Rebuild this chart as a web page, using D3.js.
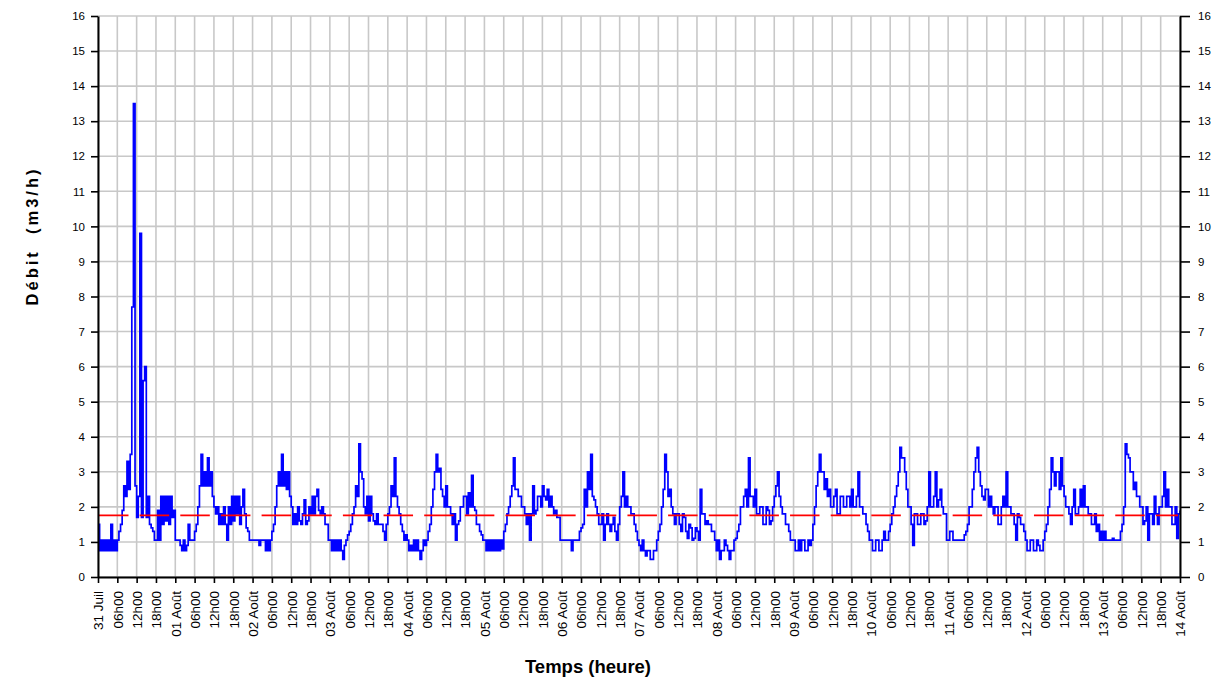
<!DOCTYPE html>
<html>
<head>
<meta charset="utf-8">
<script src="https://cdn.jsdelivr.net/npm/d3@7"></script>
<style>
  html, body { margin: 0; padding: 0; background: #fff; }
  svg { display: block; font-family: "Liberation Sans", Arial, sans-serif; }
</style>
</head>
<body>
<div id="chart"></div>
<script>
// Day labels (at 00h00) and intra-day labels.
const dayLabels = ['31 Juil', '01 Août', '02 Août', '03 Août', '04 Août', '05 Août', '06 Août',
  '07 Août', '08 Août', '09 Août', '10 Août', '11 Août', '12 Août', '13 Août', '14 Août'];
const hourLabels = ['06h00', '12h00', '18h00'];
const yTicks = d3.range(0, 17);

// Half-hourly flow (m3/h), one row per day, starting 31 Juil 00h00.
const flow = [
  1.5, 0.75, 1.05, 0.75, 1.05, 0.75, 1.05, 0.75, 1.5, 0.75, 1.05, 0.75, 1.05, 1.3, 1.5, 1.9, 2.6, 2.3, 3.3, 2.5, 3.5, 7.7, 13.5, 2.6, 1.7, 2.3, 9.8, 1.7, 5.6, 6.0, 1.7, 2.3, 1.5, 1.4, 1.3, 1.05, 1.05, 1.9, 1.05, 2.3, 1.5, 2.3, 1.6, 2.3, 1.5, 2.3, 1.7, 1.9,
  1.05, 1.05, 1.05, 0.9, 0.75, 1.05, 0.75, 0.9, 1.5, 1.05, 1.05, 1.05, 1.3, 1.5, 2.0, 2.6, 3.5, 2.6, 3.0, 2.6, 3.4, 2.6, 3.0, 2.3, 2.0, 1.8, 2.0, 1.5, 1.8, 1.5, 2.0, 1.5, 1.05, 2.0, 1.5, 2.3, 1.6, 2.3, 1.8, 2.3, 1.5, 2.0, 2.5, 1.8, 1.4, 1.3, 1.05, 1.05,
  1.05, 1.05, 1.05, 1.05, 0.9, 1.05, 1.05, 1.05, 0.75, 1.05, 0.75, 1.05, 1.3, 1.5, 2.0, 2.6, 3.0, 2.6, 3.5, 2.6, 3.0, 2.5, 3.0, 2.3, 2.0, 1.5, 1.8, 1.5, 2.0, 1.6, 1.5, 1.8, 2.2, 1.5, 1.6, 2.0, 1.8, 2.3, 1.8, 2.3, 2.5, 1.9, 1.8, 2.0, 1.8, 1.5, 1.5, 1.05,
  1.05, 0.75, 1.05, 0.75, 1.05, 0.75, 1.05, 0.75, 0.5, 0.9, 1.05, 1.2, 1.3, 1.5, 1.8, 2.0, 2.6, 2.3, 3.8, 3.0, 2.8, 2.0, 1.8, 2.3, 1.6, 2.3, 1.8, 1.6, 1.5, 1.8, 1.5, 1.5, 1.5, 1.3, 1.05, 1.5, 1.8, 2.0, 2.6, 2.3, 3.4, 2.3, 2.0, 1.8, 1.5, 1.3, 1.05, 1.2,
  1.05, 0.75, 0.9, 0.75, 1.05, 0.75, 1.05, 0.75, 0.5, 0.75, 1.05, 0.9, 1.05, 1.3, 1.5, 2.0, 2.5, 3.0, 3.5, 3.0, 3.1, 2.5, 2.3, 2.0, 2.6, 2.0, 2.0, 1.8, 1.5, 1.8, 1.05, 1.5, 1.6, 2.0, 2.0, 2.3, 2.3, 1.8, 2.4, 2.0, 2.9, 2.0, 1.9, 1.5, 1.5, 1.3, 1.2, 1.05,
  1.05, 0.75, 1.05, 0.75, 1.05, 0.75, 1.05, 0.75, 1.05, 0.75, 1.05, 0.8, 1.3, 1.5, 1.8, 2.0, 2.3, 2.6, 3.4, 2.5, 2.5, 2.3, 2.3, 2.0, 2.0, 1.8, 1.5, 1.8, 1.05, 1.8, 2.6, 1.8, 1.9, 2.3, 2.3, 2.0, 2.6, 2.3, 2.2, 2.5, 2.0, 2.3, 2.0, 1.8, 1.9, 1.7, 1.7, 1.05,
  1.05, 1.05, 1.05, 1.05, 1.05, 1.05, 0.75, 1.05, 1.05, 1.05, 1.05, 1.3, 1.4, 1.5, 2.5, 2.0, 3.0, 2.5, 3.5, 2.3, 2.2, 2.0, 1.8, 1.5, 1.5, 1.8, 1.05, 1.5, 1.8, 1.5, 1.3, 1.5, 1.7, 1.3, 1.05, 1.5, 2.0, 2.3, 3.0, 2.0, 2.3, 2.0, 2.0, 1.8, 1.8, 1.5, 1.3, 1.05,
  0.9, 0.75, 1.05, 0.75, 0.6, 0.75, 0.75, 0.5, 0.5, 0.75, 0.75, 1.05, 1.3, 1.5, 2.0, 2.5, 3.5, 3.0, 2.3, 2.5, 2.0, 1.8, 1.5, 1.8, 1.8, 1.5, 1.3, 1.8, 1.7, 1.3, 1.1, 1.5, 1.4, 1.05, 1.1, 1.4, 1.3, 1.05, 2.5, 1.8, 1.8, 1.5, 1.6, 1.5, 1.5, 1.3, 1.3, 1.05,
  0.75, 1.05, 0.5, 0.75, 0.75, 1.05, 0.9, 0.75, 0.5, 0.75, 0.75, 1.05, 1.1, 1.3, 1.5, 2.0, 2.0, 2.3, 2.5, 2.0, 3.4, 2.3, 2.3, 2.0, 2.5, 1.8, 1.8, 2.0, 2.0, 1.5, 1.5, 2.0, 1.9, 1.5, 1.6, 2.0, 2.3, 2.6, 3.0, 2.3, 2.0, 1.8, 1.8, 1.5, 1.5, 1.3, 1.05, 1.05,
  1.05, 0.75, 0.75, 1.05, 0.75, 1.05, 1.05, 0.75, 0.75, 1.05, 0.9, 1.05, 1.5, 2.0, 2.6, 3.0, 3.5, 3.0, 3.0, 2.5, 2.8, 2.3, 2.5, 2.0, 2.0, 2.3, 2.5, 1.8, 1.8, 2.3, 2.3, 2.0, 2.0, 2.3, 2.3, 2.0, 2.5, 2.0, 2.0, 2.3, 3.0, 2.0, 2.0, 1.8, 1.8, 1.5, 1.3, 1.05,
  1.05, 0.75, 0.75, 1.05, 1.05, 0.75, 0.75, 1.05, 1.3, 1.05, 1.05, 1.3, 1.5, 1.8, 2.0, 2.3, 2.6, 3.0, 3.7, 3.4, 3.4, 3.0, 2.5, 2.0, 2.0, 1.5, 0.9, 1.8, 1.8, 1.5, 1.5, 1.8, 1.8, 1.5, 1.6, 2.0, 3.0, 2.0, 2.0, 2.3, 3.0, 2.0, 2.2, 2.5, 2.0, 1.8, 1.8, 1.05,
  1.05, 1.3, 1.3, 1.05, 1.05, 1.05, 1.05, 1.05, 1.05, 1.05, 1.2, 1.3, 1.5, 2.0, 2.0, 2.5, 3.0, 3.4, 3.7, 3.0, 2.6, 2.3, 2.2, 2.5, 2.5, 2.0, 2.3, 2.0, 1.8, 2.0, 2.0, 1.5, 1.5, 2.0, 2.3, 2.0, 3.0, 2.0, 2.0, 1.8, 1.8, 1.5, 1.05, 1.8, 1.7, 1.5, 1.5, 1.3,
  1.05, 0.75, 0.75, 1.05, 1.05, 0.75, 0.75, 1.05, 0.9, 0.75, 0.75, 1.05, 1.3, 1.5, 2.0, 2.5, 3.4, 3.0, 2.6, 3.0, 3.0, 2.5, 3.4, 2.6, 2.3, 2.0, 2.0, 1.8, 1.5, 2.0, 2.5, 1.8, 1.8, 2.0, 2.5, 2.0, 2.6, 2.0, 2.0, 1.8, 1.8, 1.5, 1.5, 1.8, 1.3, 1.5, 1.05, 1.3,
  1.05, 1.3, 1.05, 1.05, 1.05, 1.05, 1.1, 1.05, 1.05, 1.05, 1.05, 1.3, 1.5, 2.0, 3.8, 3.5, 3.4, 3.0, 3.0, 2.5, 2.7, 2.3, 2.3, 2.0, 2.0, 1.5, 1.6, 2.0, 1.05, 1.8, 1.8, 1.5, 2.3, 1.8, 1.5, 2.0, 2.0, 2.3, 3.0, 2.0, 2.5, 2.0, 2.0, 1.5, 1.5, 2.0, 1.1, 1.8,
  1.9
];

// Mean flow reference line.
const meanFlow = 1.76;

function chart() {
  const attrs = {
    svgWidth: 1219,
    svgHeight: 679,
    marginTop: 16,
    marginLeft: 98,
    marginRight: 39,
    marginBottom: 102,
    totalHours: 336,
    stepHours: 0.5,
    gridColor: '#c8c8c8',
    lineColor: '#0000ff',
    meanColor: '#ff0000'
  };

  const calc = {};
  calc.chartWidth = attrs.svgWidth - attrs.marginLeft - attrs.marginRight;
  calc.chartHeight = attrs.svgHeight - attrs.marginTop - attrs.marginBottom;

  const points = flow.map((v, i) => ({ x: i * attrs.stepHours, y: v }));

  // Scales.
  const xScale = d3.scaleLinear()
    .domain([0, attrs.totalHours])
    .range([0, calc.chartWidth]);

  const yScale = d3.scaleLinear()
    .domain([0, 16])
    .range([calc.chartHeight, 0]);

  const xTicks = d3.range(0, attrs.totalHours + 1, 6);
  const xLabel = h => (h % 24 === 0) ? dayLabels[h / 24] : hourLabels[(h % 24) / 6 - 1];

  const svg = d3.select('#chart').append('svg')
    .attr('width', attrs.svgWidth)
    .attr('height', attrs.svgHeight);

  const chart = svg.append('g')
    .attr('transform', 'translate(' + attrs.marginLeft + ',' + attrs.marginTop + ')');

  // Grid.
  chart.append('g').selectAll('line.vgrid')
    .data(xTicks)
    .enter().append('line')
    .attr('class', 'vgrid')
    .attr('x1', d => xScale(d))
    .attr('x2', d => xScale(d))
    .attr('y1', 0)
    .attr('y2', calc.chartHeight)
    .attr('stroke', attrs.gridColor)
    .attr('stroke-width', 1.6);

  chart.append('g').selectAll('line.hgrid')
    .data(yTicks)
    .enter().append('line')
    .attr('class', 'hgrid')
    .attr('x1', 0)
    .attr('x2', calc.chartWidth)
    .attr('y1', d => yScale(d))
    .attr('y2', d => yScale(d))
    .attr('stroke', attrs.gridColor)
    .attr('stroke-width', 1.6);

  // Flow line.
  const line = d3.line()
    .curve(d3.curveStepAfter)
    .x(d => xScale(d.x))
    .y(d => yScale(d.y));

  chart.append('path')
    .datum(points)
    .attr('d', line)
    .attr('fill', 'none')
    .attr('stroke', attrs.lineColor)
    .attr('stroke-width', 1.7);

  // Mean line.
  chart.append('line')
    .attr('x1', 1)
    .attr('x2', calc.chartWidth - 2)
    .attr('y1', yScale(meanFlow))
    .attr('y2', yScale(meanFlow))
    .attr('stroke', attrs.meanColor)
    .attr('stroke-width', 1.8)
    .attr('stroke-dasharray', '29.5 11.15');

  // Axes.
  const xAxis = d3.axisBottom(xScale)
    .tickValues(xTicks)
    .tickFormat(xLabel)
    .tickSize(6)
    .tickSizeOuter(0);

  const gx = chart.append('g')
    .attr('transform', 'translate(0,' + calc.chartHeight + ')')
    .call(xAxis);

  gx.selectAll('text')
    .attr('transform', 'rotate(-90)')
    .attr('text-anchor', 'end')
    .attr('x', -14)
    .attr('y', 0)
    .attr('dy', '0.36em')
    .attr('font-size', 13.5)
    .attr('fill', '#000');

  const yLeft = d3.axisLeft(yScale).tickValues(yTicks).tickSize(7).tickSizeOuter(0).tickPadding(6);
  const yRight = d3.axisRight(yScale).tickValues(yTicks).tickSize(10).tickSizeOuter(0).tickPadding(8);

  const gyl = chart.append('g').call(yLeft);
  const gyr = chart.append('g')
    .attr('transform', 'translate(' + calc.chartWidth + ',0)')
    .call(yRight);

  [gx, gyl, gyr].forEach(g => {
    g.select('.domain').attr('stroke', '#000').attr('stroke-width', 2);
    g.selectAll('.tick line').attr('stroke', '#000').attr('stroke-width', 1.6);
    g.selectAll('text').attr('fill', '#000');
  });
  [gyl, gyr].forEach(g => g.selectAll('text').attr('font-size', 11.5));

  // Titles.
  svg.append('text')
    .attr('transform', 'translate(38,236) rotate(-90)')
    .attr('text-anchor', 'middle')
    .attr('font-size', 16.5)
    .attr('font-weight', 'bold')
    .attr('letter-spacing', 3)
    .style('white-space', 'pre')
    .text('Débit  (m3/h)');

  svg.append('text')
    .attr('x', 588)
    .attr('y', 673)
    .attr('text-anchor', 'middle')
    .attr('font-size', 18.5)
    .attr('font-weight', 'bold')
    .text('Temps (heure)');
}

chart();
</script>
</body>
</html>
